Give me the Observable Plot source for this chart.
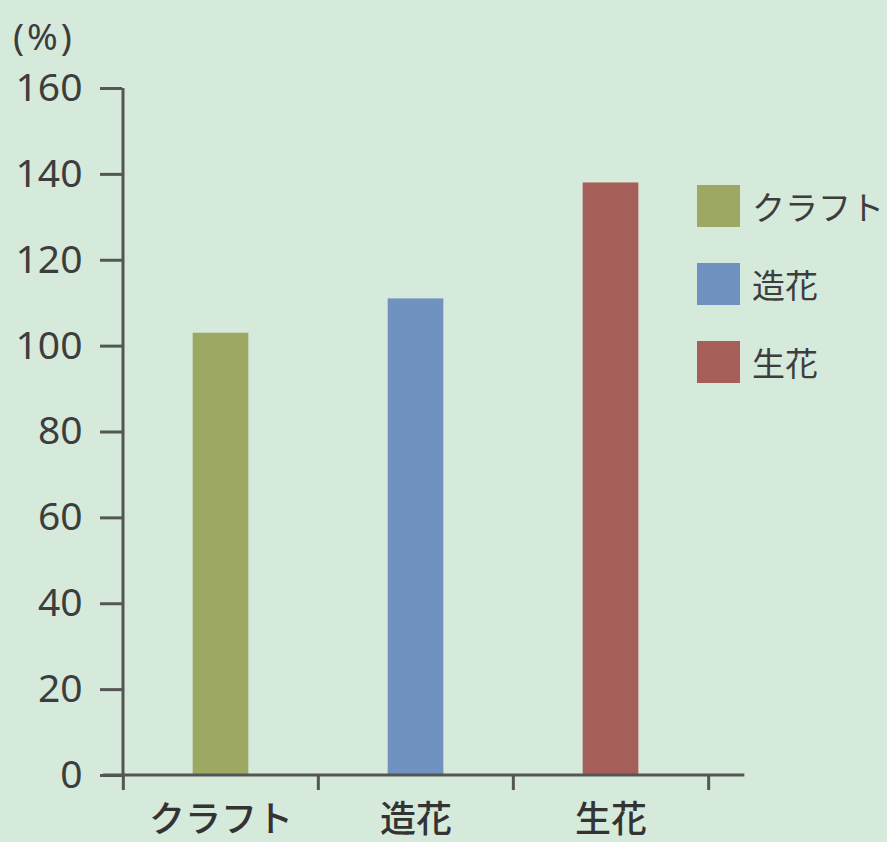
<!DOCTYPE html>
<html><head><meta charset="utf-8">
<script src="https://cdn.jsdelivr.net/npm/d3@7"></script>
<script src="https://cdn.jsdelivr.net/npm/@observablehq/plot@0.6"></script>
<style>
body{margin:0;background:#d5eadb;}
#wrap{position:relative;width:887px;height:842px;overflow:hidden;background:#d5eadb;font-family:"Noto Sans CJK JP","Noto Sans",sans-serif;color:#3d3d3d}
#unit{position:absolute;left:13px;top:18px;font-family:"Noto Sans",sans-serif;font-size:37px;line-height:36px;letter-spacing:3px;}
#legend{position:absolute;left:697px;top:185px;}
.li{display:flex;align-items:center;height:42px;margin-bottom:36px;white-space:nowrap;}
.sw{width:43px;height:42px;margin-right:12px;flex:none;}
.lt{font-size:33px;line-height:42px;}
svg{position:absolute;left:0;top:0;}
</style></head>
<body><div id="wrap"><div id="unit">(%)</div><div id="legend"></div></div>
<script>
const categories = ["クラフト", "造花", "生花"];
const values = [103, 111, 138];
const colors = ["#9da862", "#6f92c0", "#a65e58"];
const yTicks = [0, 20, 40, 60, 80, 100, 120, 140, 160];

const W = 887, H = 842, mL = 122, mR = 179, mT = 88, mB = 67;
const bw = (W - mL - mR) / categories.length;
const barW = 56;
const inset = (bw - barW) / 2;
const axisColor = "#555";
const data = categories.map((c, i) => ({cat: c, value: values[i], color: colors[i]}));

const chart = Plot.plot({
  width: W, height: H,
  marginLeft: mL, marginRight: mR, marginTop: mT, marginBottom: mB,
  style: {background: "transparent", fontFamily: "'Noto Sans', sans-serif"},
  x: {domain: categories, padding: 0, axis: null, label: null},
  y: {domain: [0, 160], axis: null, label: null},
  marks: [
    Plot.barY(data, {x: "cat", y: "value", fill: "color", insetLeft: inset, insetRight: inset}),
    Plot.axisY({ticks: yTicks, label: null, tickSize: 22, tickPadding: 18, fontSize: 39, color: "#3d3d3d", stroke: axisColor, strokeWidth: 3}),
    Plot.axisX({ticks: categories, label: null, tickSize: 15, tickFormat: () => "", dx: -bw / 2, stroke: axisColor, strokeWidth: 3}),
    Plot.axisX({ticks: [categories[categories.length - 1]], label: null, tickSize: 15, tickFormat: () => "", dx: bw / 2, stroke: axisColor, strokeWidth: 3}),
    Plot.text(data, {x: "cat", y: 0, text: "cat", dy: 45, fontSize: 36, fontWeight: 500, fill: "#333", fontFamily: "'Noto Sans CJK JP', sans-serif"})
  ]
});

const xs = chart.scale("x"), ys = chart.scale("y");
const svg = d3.select(chart);
const x0 = xs.apply(categories[0]);
const x1 = xs.apply(categories[categories.length - 1]) + bw;
svg.append("line").attr("x1", x0).attr("x2", x0).attr("y1", ys.apply(160)).attr("y2", ys.apply(0))
  .attr("stroke", axisColor).attr("stroke-width", 3);
svg.append("line").attr("x1", x0 - 20).attr("x2", x1 + 36).attr("y1", ys.apply(0)).attr("y2", ys.apply(0))
  .attr("stroke", axisColor).attr("stroke-width", 3);

document.getElementById("wrap").appendChild(chart);

const leg = d3.select("#legend");
data.forEach(d => {
  const row = leg.append("div").attr("class", "li");
  row.append("div").attr("class", "sw").style("background", d.color);
  row.append("div").attr("class", "lt").text(d.cat);
});
</script>
</body></html>
